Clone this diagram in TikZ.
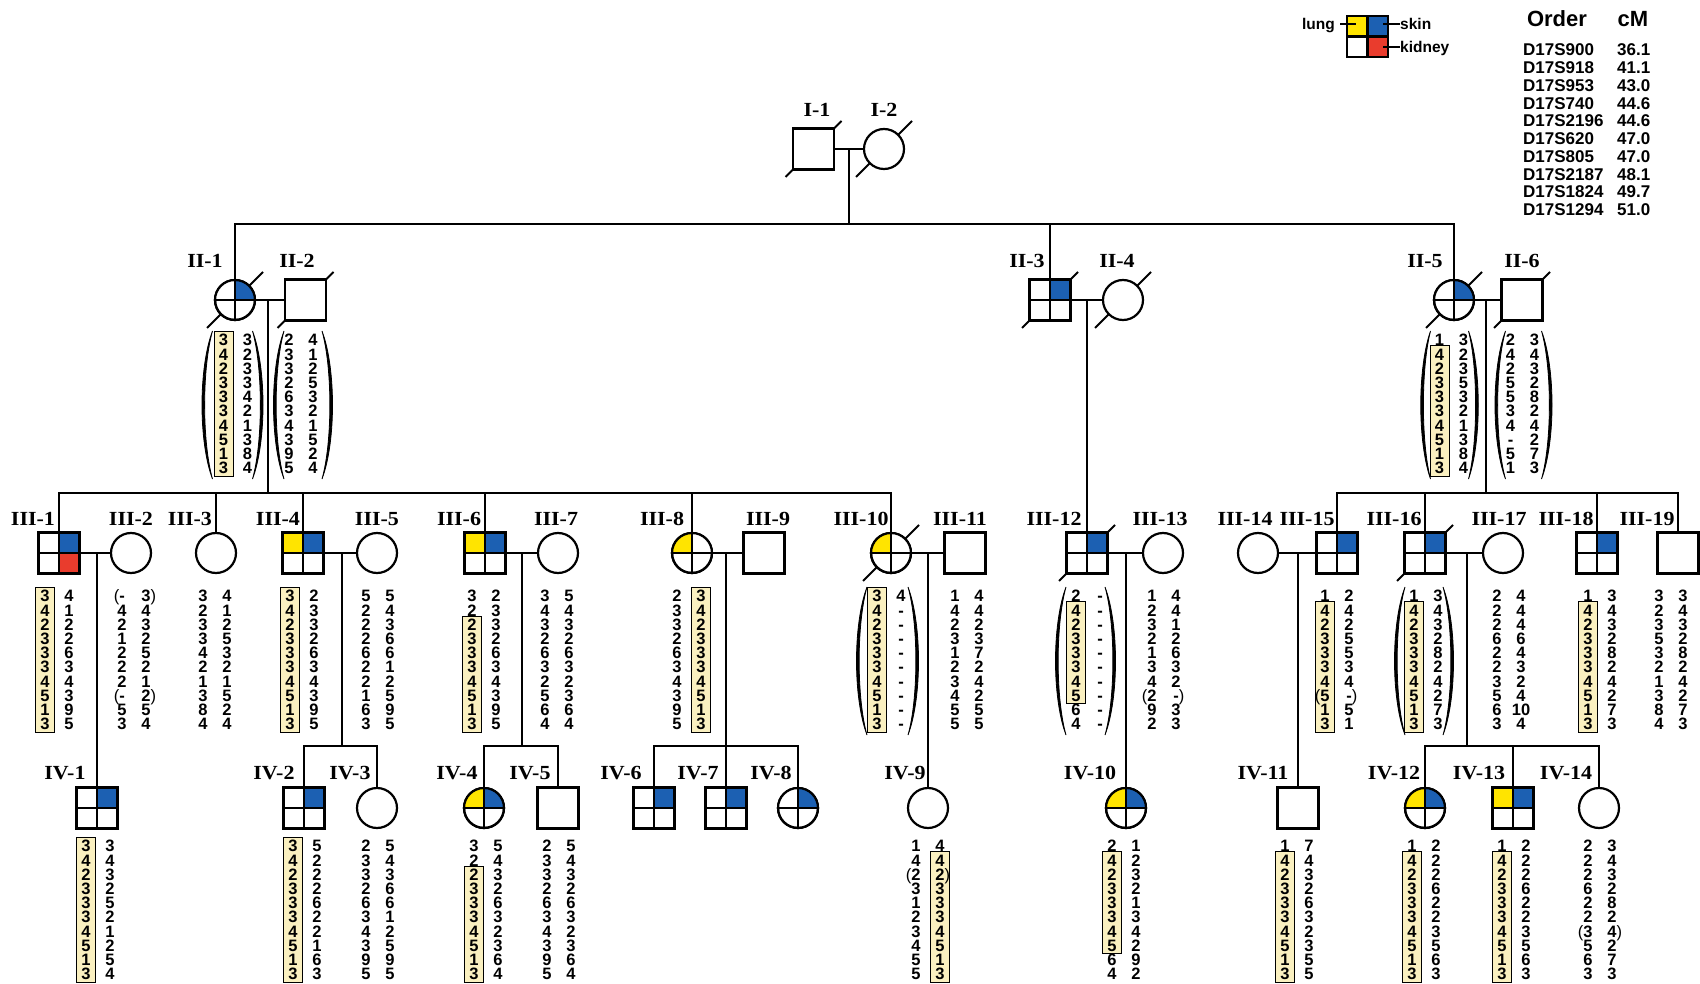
\documentclass[tikz,border=0pt]{standalone}
\usepackage{fontspec}
\setmainfont{Liberation Sans}
\newfontfamily\labf[FakeStretch=1.1]{Liberation Serif}
\usetikzlibrary{calc,backgrounds}
\definecolor{sblue}{RGB}{28,96,178}
\definecolor{syel}{RGB}{255,228,0}
\definecolor{sred}{RGB}{233,60,45}
\definecolor{hly}{RGB}{250,240,192}
\newcommand{\gLp}{\llap{\mdseries(}}
\newcommand{\gRp}{\rlap{\mdseries)}}
\tikzset{
 pl/.style={line width=2pt, line cap=rect},
 sym/.style={line width=2.2pt},
 sqn/.style={rectangle, draw, line width=2.2pt, fill=white, minimum size=41pt, inner sep=0pt, outer sep=0pt},
 cin/.style={circle, draw, line width=2.2pt, fill=white, minimum size=40pt, inner sep=0pt, outer sep=0pt},
 slash/.style={line width=2pt},
 lab/.style={font=\labf\bfseries\fontsize{20pt}{20pt}\selectfont, inner sep=0pt},
 dig/.style={font=\bfseries\fontsize{16.5pt}{16.5pt}\selectfont, inner sep=0pt, text height=11.8pt, text depth=0pt},
 hl/.style={fill=hly, draw=black, line width=0.9pt},
 par/.style={fill=black, draw=black, line width=0.8pt},
 lgt/.style={font=\bfseries\fontsize{15.5pt}{15.5pt}\selectfont, inner sep=0pt},
 mk/.style={font=\bfseries\fontsize{17pt}{17pt}\selectfont, inner sep=0pt, text height=12pt, text depth=0pt},
 hd/.style={font=\bfseries\fontsize{22pt}{22pt}\selectfont, inner sep=0pt},
 legl/.style={line width=1.6pt},
}
\newcommand{\qsq}[6]{%
 \node[sqn] (#1) at (#2,#3) {};
 \fill[#4] (#1.north west) rectangle (#1.center);
 \fill[#5] (#1.north east) rectangle (#1.center);
 \fill[#6] (#1.south east) rectangle (#1.center);
 \draw[sym] (#1.north) -- (#1.south) (#1.west) -- (#1.east);
 \draw[sym] (#1.north west) rectangle (#1.south east);
}
\newcommand{\qci}[5]{%
 \node[cin] (#1) at (#2,#3) {};
 \fill[#4] (#1.center) -- (#1.north) arc[start angle=90,end angle=180,radius=20pt] -- cycle;
 \fill[#5] (#1.center) -- (#1.east) arc[start angle=0,end angle=90,radius=20pt] -- cycle;
 \draw[sym] (#1.north) -- (#1.south) (#1.west) -- (#1.east);
 \draw[sym] (#1.center) circle[radius=20pt];
}
\newcommand{\gcol}[4]{\foreach \gv [count=\gi] in {#4} {\node[dig] (#1-\gi) at ({#2},{#3+(\gi-1)*14.2}) {\gv};}}
\newcommand{\geno}[5]{\gcol{#1L}{#2-12}{#3}{#4}\gcol{#1R}{#2+12}{#3}{#5}}
\newcommand{\ybx}[4]{\draw[hl] ({#1-9.5},{#2+(#3-1)*14.2-8.3}) rectangle ({#1+9.5},{#2+(#4-1)*14.2+8.3});}
\newcommand{\hpar}[6]{%
 \filldraw[par] ({#1-#4},#2) .. controls ({#1-#4-#6},{#2+0.25*(#3-#2)}) and ({#1-#4-#6},{#3-0.25*(#3-#2)}) .. ({#1-#4},#3) .. controls ({#1-#4-#6+3.5},{#3-0.25*(#3-#2)}) and ({#1-#4-#6+3.5},{#2+0.25*(#3-#2)}) .. ({#1-#4},#2) -- cycle;
 \filldraw[par] ({#1+#5},#2) .. controls ({#1+#5+#6},{#2+0.25*(#3-#2)}) and ({#1+#5+#6},{#3-0.25*(#3-#2)}) .. ({#1+#5},#3) .. controls ({#1+#5+#6-3.5},{#3-0.25*(#3-#2)}) and ({#1+#5+#6-3.5},{#2+0.25*(#3-#2)}) .. ({#1+#5},#2) -- cycle;
}
\newcommand{\dead}[1]{\draw[slash] ($(#1)+(-28,28)$) -- ($(#1)+(28,-28)$);}
\begin{document}
\begin{tikzpicture}[x=1pt,y=-1pt]
\useasboundingbox (0,0) rectangle (1700,984);

% ---------- legend ----------
\qsq{leg}{1367.5}{36.5}{syel}{sblue}{sred}
\node[lgt, anchor=base east] (tlung) at (1335,30) {lung};
\node[lgt, anchor=base west] (tskin) at (1400,30) {skin};
\node[lgt, anchor=base west] (tkid) at (1400,53) {kidney};
\coordinate (klung) at (1356,24);
\coordinate (kskin) at (1383,24);
\coordinate (kkid) at (1383,47);
\draw[legl] ([xshift=5pt]klung -| tlung.east) -- (klung);
\draw[legl] (kskin) -- (kskin -| tskin.west);
\draw[legl] (kkid) -- (kkid -| tkid.west);
\node[hd, anchor=base] (tord) at (1557,27) {Order};
\node[hd, anchor=base] (tcm) at (1633,27) {cM};
\foreach \m/\c [count=\k] in {D17S900/36.1,D17S918/41.1,D17S953/43.0,D17S740/44.6,D17S2196/44.6,D17S620/47.0,D17S805/47.0,D17S2187/48.1,D17S1824/49.7,D17S1294/51.0}
 {\node[mk, anchor=west] (mk\k) at (1523,{50+(\k-1)*17.75}) {\m};
  \node[mk, anchor=west] (cm\k) at (1617,{50+(\k-1)*17.75}) {\c};}

% ---------- generation I ----------
\node[sqn] (I1) at (813.5,149) {};
\node[cin] (I2) at (884,149) {};
\node[lab] (tI1) at (817,110) {I-1};
\node[lab] (tI2) at (884,110) {I-2};

% ---------- generation II ----------
\qci{II1}{235}{300}{white}{sblue}
\node[sqn] (II2) at (305.5,300) {};
\qsq{II3}{1050}{300}{white}{sblue}{white}
\node[cin] (II4) at (1123,300) {};
\qci{II5}{1454}{300}{white}{sblue}
\node[sqn] (II6) at (1522,300) {};
\foreach \n/\x in {II-1/205,II-2/297,II-3/1027,II-4/1117,II-5/1425,II-6/1522}
 {\node[lab] (t\n) at (\x,261) {\n};}

% ---------- generation III ----------
\qsq{III1}{59}{553}{white}{sblue}{sred}
\node[cin] (III2) at (131,553) {};
\node[cin] (III3) at (216,553) {};
\qsq{III4}{303}{553}{syel}{sblue}{white}
\node[cin] (III5) at (377,553) {};
\qsq{III6}{485}{553}{syel}{sblue}{white}
\node[cin] (III7) at (558,553) {};
\qci{III8}{692}{553}{syel}{white}
\node[sqn] (III9) at (764,553) {};
\qci{III10}{891}{553}{syel}{white}
\node[sqn] (III11) at (965,553) {};
\qsq{III12}{1087}{553}{white}{sblue}{white}
\node[cin] (III13) at (1163,553) {};
\node[cin] (III14) at (1258,553) {};
\qsq{III15}{1337}{553}{white}{sblue}{white}
\qsq{III16}{1425}{553}{white}{sblue}{white}
\node[cin] (III17) at (1503,553) {};
\qsq{III18}{1597}{553}{white}{sblue}{white}
\node[sqn] (III19) at (1678,553) {};
\foreach \n/\x in {III-1/33,III-2/131,III-3/190,III-4/278,III-5/377,III-6/459,III-7/556,III-8/662,III-9/768,III-10/861,III-11/960,III-12/1054,III-13/1160,III-14/1245,III-15/1307,III-16/1394,III-17/1499,III-18/1566,III-19/1647}
 {\node[lab] (t\n) at (\x,519) {\n};}

% ---------- generation IV ----------
\qsq{IV1}{97}{808}{white}{sblue}{white}
\qsq{IV2}{304}{808}{white}{sblue}{white}
\node[cin] (IV3) at (377,808) {};
\qci{IV4}{484}{808}{syel}{sblue}
\node[sqn] (IV5) at (558,808) {};
\qsq{IV6}{654}{808}{white}{sblue}{white}
\qsq{IV7}{726}{808}{white}{sblue}{white}
\qci{IV8}{798}{808}{white}{sblue}
\node[cin] (IV9) at (928,808) {};
\qci{IV10}{1126}{808}{syel}{sblue}
\node[sqn] (IV11) at (1298,808) {};
\qci{IV12}{1425}{808}{syel}{sblue}
\qsq{IV13}{1513}{808}{syel}{sblue}{white}
\node[cin] (IV14) at (1599,808) {};
\foreach \n/\x in {IV-1/65,IV-2/274,IV-3/350,IV-4/457,IV-5/530,IV-6/621,IV-7/698,IV-8/771,IV-9/905,IV-10/1090,IV-11/1263,IV-12/1394,IV-13/1479,IV-14/1566}
 {\node[lab] (t\n) at (\x,773) {\n};}

% ---------- connectors ----------
\coordinate (mI) at (849,149);
\coordinate (sI) at (849,224);
\draw[pl] (I1.east) -- (I2.west);
\draw[pl] (mI) -- (sI);
\draw[pl] (II1.north |- sI) -- (II5.north |- sI);
\foreach \p in {II1,II3,II5} {\draw[pl] (\p.north |- sI) -- (\p.north);}

\coordinate (m12) at (268,300);
\coordinate (s3a) at (268,493);
\draw[pl] (II1.east) -- (II2.west);
\draw[pl] (m12) -- (s3a);
\draw[pl] (III1.north |- s3a) -- (III10.north |- s3a);
\foreach \p in {III1,III3,III4,III6,III8,III10} {\draw[pl] (\p.north |- s3a) -- (\p.north);}

\coordinate (m34) at (1087,300);
\draw[pl] (II3.east) -- (II4.west);
\draw[pl] (m34) -- (III12.north);

\coordinate (m56) at (1486,300);
\coordinate (s3b) at (1486,493);
\draw[pl] (II5.east) -- (II6.west);
\draw[pl] (m56) -- (s3b);
\draw[pl] (III15.north |- s3b) -- (III19.north |- s3b);
\foreach \p in {III15,III16,III18,III19} {\draw[pl] (\p.north |- s3b) -- (\p.north);}

\draw[pl] (III1.east) -- (III2.west);
\coordinate (mA) at (97,553);
\draw[pl] (mA) -- (IV1.north);

\draw[pl] (III4.east) -- (III5.west);
\coordinate (mB) at (342,553); \coordinate (sB) at (342,746);
\draw[pl] (mB) -- (sB);
\draw[pl] (IV2.north |- sB) -- (IV3.north |- sB);
\foreach \p in {IV2,IV3} {\draw[pl] (\p.north |- sB) -- (\p.north);}

\draw[pl] (III6.east) -- (III7.west);
\coordinate (mC) at (522,553); \coordinate (sC) at (522,746);
\draw[pl] (mC) -- (sC);
\draw[pl] (IV4.north |- sC) -- (IV5.north |- sC);
\foreach \p in {IV4,IV5} {\draw[pl] (\p.north |- sC) -- (\p.north);}

\draw[pl] (III8.east) -- (III9.west);
\coordinate (mD) at (726,553); \coordinate (sD) at (726,746);
\draw[pl] (mD) -- (sD);
\draw[pl] (IV6.north |- sD) -- (IV8.north |- sD);
\foreach \p in {IV6,IV7,IV8} {\draw[pl] (\p.north |- sD) -- (\p.north);}

\draw[pl] (III10.east) -- (III11.west);
\coordinate (mE) at (928,553);
\draw[pl] (mE) -- (IV9.north);

\draw[pl] (III12.east) -- (III13.west);
\coordinate (mF) at (1126,553);
\draw[pl] (mF) -- (IV10.north);

\draw[pl] (III14.east) -- (III15.west);
\coordinate (mG) at (1298,553);
\draw[pl] (mG) -- (IV11.north);

\draw[pl] (III16.east) -- (III17.west);
\coordinate (mH) at (1467,553); \coordinate (sH) at (1467,746);
\draw[pl] (mH) -- (sH);
\draw[pl] (IV12.north |- sH) -- (IV14.north |- sH);
\foreach \p in {IV12,IV13,IV14} {\draw[pl] (\p.north |- sH) -- (\p.north);}

% ---------- deceased slashes (behind symbols) ----------
\begin{scope}[on background layer]
\fill[white] (0,0) rectangle (1700,984);
\foreach \p in {I1,I2,II1,II2,II3,II4,II5,II6,III10,III12,III16} {\dead{\p}}
\end{scope}

% ---------- haplotypes generation II ----------
\ybx{235.5-12}{340}{1}{10}
\geno{gII1}{235.5}{340}{3,4,2,3,3,3,4,5,1,3}{3,2,3,3,4,2,1,3,8,4}
\hpar{235.5}{331}{479}{23}{17}{14}
\geno{gII2}{301}{340}{2,3,3,2,6,3,4,3,9,5}{4,1,2,5,3,2,1,5,2,4}
\hpar{301}{331}{479}{17}{21}{14}
\ybx{1451.5-12}{340}{2}{10}
\geno{gII5}{1451.5}{340}{1,4,2,3,3,3,4,5,1,3}{3,2,3,5,3,2,1,3,8,4}
\hpar{1451.5}{331}{479}{21}{17}{13}
\geno{gII6}{1522.5}{340}{2,4,2,5,5,3,4,-,5,1}{3,4,3,2,8,2,4,2,7,3}
\hpar{1522.5}{331}{479}{17}{19}{14}

% ---------- haplotypes generation III ----------
\ybx{57-12}{596}{1}{10}
\geno{gIII1}{57}{596}{3,4,2,3,3,3,4,5,1,3}{4,1,2,2,6,3,4,3,9,5}
\geno{gIII2}{134}{596}{\gLp-,4,2,1,2,2,2,\gLp-,5,3}{3\gRp,4,3,2,5,2,1,2\gRp,5,4}
\geno{gIII3}{215}{596}{3,2,3,3,4,2,1,3,8,4}{4,1,2,5,3,2,1,5,2,4}
\ybx{302-12}{596}{1}{10}
\geno{gIII4}{302}{596}{3,4,2,3,3,3,4,5,1,3}{2,3,3,2,6,3,4,3,9,5}
\geno{gIII5}{378}{596}{5,2,2,2,6,2,2,1,6,3}{5,4,3,6,6,1,2,5,9,5}
\ybx{484-12}{596}{3}{10}
\geno{gIII6}{484}{596}{3,2,2,3,3,3,4,5,1,3}{2,3,3,2,6,3,4,3,9,5}
\geno{gIII7}{557}{596}{3,4,3,2,6,3,2,5,6,4}{5,4,3,2,6,3,2,3,6,4}
\ybx{689+12}{596}{1}{10}
\geno{gIII8}{689}{596}{2,3,3,2,6,3,4,3,9,5}{3,4,2,3,3,3,4,5,1,3}
\ybx{889-12}{596}{1}{10}
\geno{gIII10}{889}{596}{3,4,2,3,3,3,4,5,1,3}{4,-,-,-,-,-,-,-,-,-}
\hpar{889}{587}{735}{22}{19}{14}
\geno{gIII11}{967}{596}{1,4,2,3,1,2,3,4,5,5}{4,4,2,3,7,2,4,2,5,5}
\ybx{1088-12}{596}{2}{8}
\geno{gIII12}{1088}{596}{2,4,2,3,3,3,4,5,6,4}{-,-,-,-,-,-,-,-,-,-}
\hpar{1088}{587}{735}{22}{17}{14}
\geno{gIII13}{1164}{596}{1,2,3,2,1,3,4,\gLp2,9,2}{4,4,1,2,6,3,2,-\gRp,3,3}
\ybx{1337-12}{596}{2}{10}
\geno{gIII15}{1337}{596}{1,4,2,3,3,3,4,\gLp5,1,3}{2,4,2,5,5,3,4,-\gRp,5,1}
\ybx{1426-12}{596}{2}{10}
\geno{gIII16}{1426}{596}{1,4,2,3,3,3,4,5,1,3}{3,4,3,2,8,2,4,2,7,3}
\hpar{1426}{587}{735}{21}{17}{14}
\geno{gIII17}{1509}{596}{2,2,2,6,2,2,3,5,6,3}{4,4,4,6,4,3,2,4,10,4}
\ybx{1600-12}{596}{2}{10}
\geno{gIII18}{1600}{596}{1,4,2,3,3,3,4,5,1,3}{3,4,3,2,8,2,4,2,7,3}
\geno{gIII19}{1671}{596}{3,2,3,5,3,2,1,3,8,4}{3,4,3,2,8,2,4,2,7,3}

% ---------- haplotypes generation IV ----------
\ybx{98-12}{846}{1}{10}
\geno{gIV1}{98}{846}{3,4,2,3,3,3,4,5,1,3}{3,4,3,2,5,2,1,2,5,4}
\ybx{305-12}{846}{1}{10}
\geno{gIV2}{305}{846}{3,4,2,3,3,3,4,5,1,3}{5,2,2,2,6,2,2,1,6,3}
\geno{gIV3}{378}{846}{2,3,3,2,6,3,4,3,9,5}{5,4,3,6,6,1,2,5,9,5}
\ybx{486-12}{846}{3}{10}
\geno{gIV4}{486}{846}{3,2,2,3,3,3,4,5,1,3}{5,4,3,2,6,3,2,3,6,4}
\geno{gIV5}{559}{846}{2,3,3,2,6,3,4,3,9,5}{5,4,3,2,6,3,2,3,6,4}
\ybx{928+12}{846}{2}{10}
\geno{gIV9}{928}{846}{1,4,\gLp2,3,1,2,3,4,5,5}{4,4,2\gRp,3,3,3,4,5,1,3}
\ybx{1124-12}{846}{2}{8}
\geno{gIV10}{1124}{846}{2,4,2,3,3,3,4,5,6,4}{1,2,3,2,1,3,4,2,9,2}
\ybx{1297-12}{846}{2}{10}
\geno{gIV11}{1297}{846}{1,4,2,3,3,3,4,5,1,3}{7,4,3,2,6,3,2,3,5,5}
\ybx{1424-12}{846}{2}{10}
\geno{gIV12}{1424}{846}{1,4,2,3,3,3,4,5,1,3}{2,2,2,6,2,2,3,5,6,3}
\ybx{1514-12}{846}{2}{10}
\geno{gIV13}{1514}{846}{1,4,2,3,3,3,4,5,1,3}{2,2,2,6,2,2,3,5,6,3}
\geno{gIV14}{1600}{846}{2,2,2,6,2,2,\gLp3,5,6,3}{3,4,3,2,8,2,4\gRp,2,7,3}
\end{tikzpicture}
\end{document}
